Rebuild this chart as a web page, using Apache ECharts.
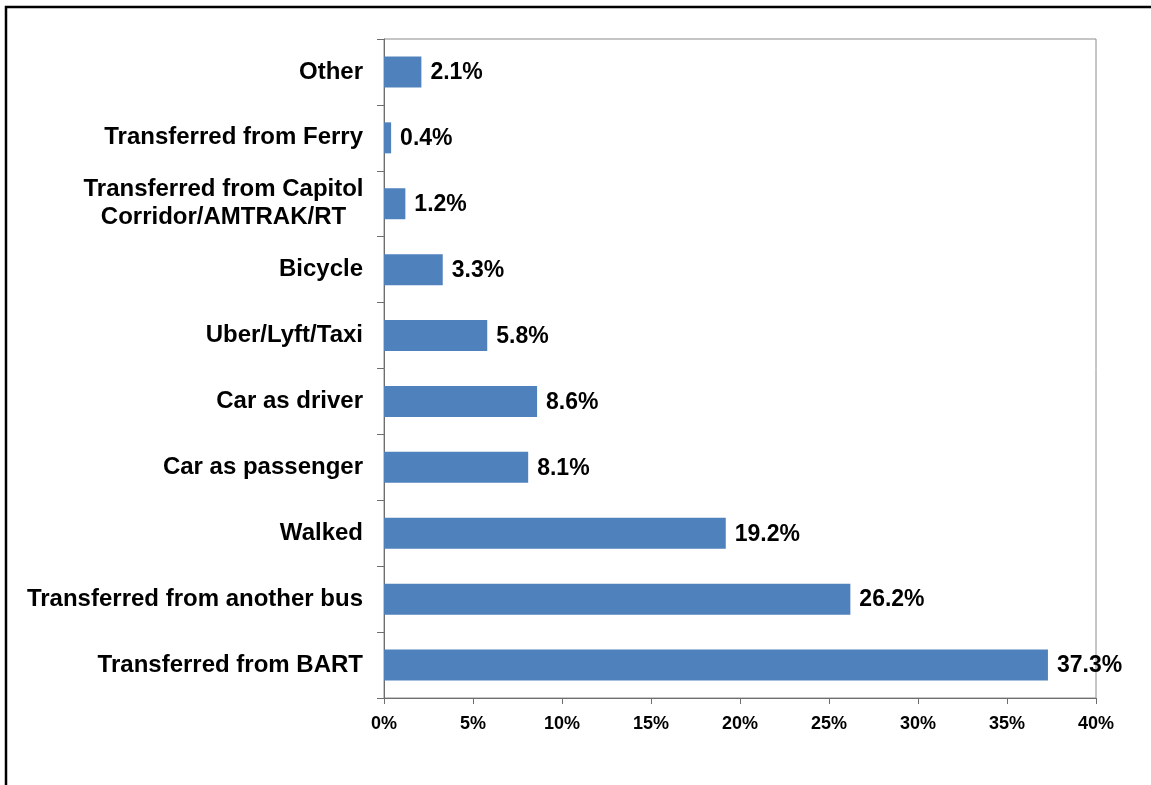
<!DOCTYPE html>
<html>
<head>
<meta charset="utf-8">
<script src="https://cdn.jsdelivr.net/npm/echarts@6/dist/echarts.min.js"></script>
<style>
  html, body { margin: 0; padding: 0; background: #ffffff; }
  #chart { width: 1151px; height: 785px; }
</style>
</head>
<body>
<div id="chart"></div>
<script>
// Access modes, listed bottom to top as drawn on the category axis
const categories = [
  'Transferred from BART',
  'Transferred from another bus',
  'Walked',
  'Car as passenger',
  'Car as driver',
  'Uber/Lyft/Taxi',
  'Bicycle',
  'Transferred from Capitol\nCorridor/AMTRAK/RT',
  'Transferred from Ferry',
  'Other'
];
// Share of riders, percent
const shares = [37.3, 26.2, 19.2, 8.1, 8.6, 5.8, 3.3, 1.2, 0.4, 2.1];
const xTicks = { min: 0, max: 40, interval: 5 };

const FONT = '"Liberation Sans", Arial, sans-serif';
const chart = echarts.init(document.getElementById('chart'), null, { renderer: 'canvas' });

chart.setOption({
  backgroundColor: '#ffffff',
  animation: false,
  graphic: [{
    type: 'rect',
    shape: { x: 6, y: 7, width: 1300, height: 900 },
    style: { fill: 'none', stroke: '#000000', lineWidth: 2.5 },
    silent: true
  }],
  grid: {
    left: 384, right: 55, top: 39, bottom: 87,
    show: true, borderColor: '#8c8c8c', borderWidth: 1,
    containLabel: false
  },
  xAxis: {
    type: 'value',
    min: xTicks.min, max: xTicks.max, interval: xTicks.interval,
    axisLine: { show: true, lineStyle: { color: '#6e6e6e', width: 1 } },
    axisTick: { show: true, length: 6, inside: false, lineStyle: { color: '#6e6e6e' } },
    splitLine: { show: false },
    axisLabel: {
      formatter: v => v + '%',
      color: '#000000', fontSize: 18, fontWeight: 'bold', fontFamily: FONT, margin: 17
    }
  },
  yAxis: {
    type: 'category',
    data: categories,
    axisLine: { show: true, lineStyle: { color: '#6e6e6e', width: 1 } },
    axisTick: { show: true, length: 7, inside: false, alignWithLabel: false, lineStyle: { color: '#6e6e6e' } },
    splitLine: { show: false },
    axisLabel: {
      color: '#000000', fontSize: 24, fontWeight: 'bold', fontFamily: FONT, margin: 21,
      lineHeight: 28,
      formatter: function (v) {
        // two-line label: both lines centred on each other
        if (v.indexOf('\n') >= 0) {
          return v.split('\n').map(s => '{c|' + s + '}').join('\n');
        }
        return v;
      },
      rich: {
        c: {
          width: 279, align: 'center', color: '#000000', fontSize: 24,
          fontWeight: 'bold', fontFamily: FONT, lineHeight: 28
        }
      }
    }
  },
  series: [{
    type: 'bar',
    data: shares,
    barWidth: 31,
    itemStyle: { color: '#4f81bd' },
    label: {
      show: true, position: 'right', distance: 9, offset: [0, 1],
      formatter: p => p.value.toFixed(1) + '%',
      color: '#000000', fontSize: 23, fontWeight: 'bold', fontFamily: FONT
    }
  }]
});
</script>
</body>
</html>
